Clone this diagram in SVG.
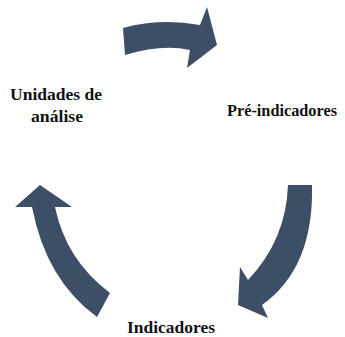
<svg xmlns="http://www.w3.org/2000/svg" width="345" height="337" viewBox="0 0 345 337">
<style>
.arrow{fill:#3c4f67;}
.lbl{font-weight:bold;font-size:17px;fill:#111;}
</style>
<rect width="345" height="337" fill="#fff"/>
<g id="connectors">
<path class="arrow" d="M123,28 Q160,18 200,25 L207,7 L217,45 L187,68 L190,50 Q162.5,43.5 125,55 Z"/>
<path class="arrow" d="M288,185 L312,185 Q314,268 262,305 L268,318 L238,305 L240,267 L248,280 Q286,240 288,185 Z"/>
<path class="arrow" d="M40,185 L72,207 L55,207 Q66,260 110,293 L97,317 Q46,280 32,207 L15,207 Z"/>
</g>
<g id="node-unidades">
<text class="lbl" font-family="Liberation Serif, serif" x="56" y="100" text-anchor="middle" textLength="92" lengthAdjust="spacingAndGlyphs">Unidades de</text>
<text class="lbl" font-family="Liberation Serif, serif" x="57" y="122" text-anchor="middle" textLength="52" lengthAdjust="spacingAndGlyphs">análise</text>
</g>
<g id="node-pre">
<text class="lbl" font-family="Liberation Serif, serif" x="282" y="116" text-anchor="middle" textLength="110" lengthAdjust="spacingAndGlyphs">Pré-indicadores</text>
</g>
<g id="node-indicadores">
<text class="lbl" font-family="Liberation Serif, serif" x="171" y="333" text-anchor="middle" textLength="88" lengthAdjust="spacingAndGlyphs">Indicadores</text>
</g>
</svg>
